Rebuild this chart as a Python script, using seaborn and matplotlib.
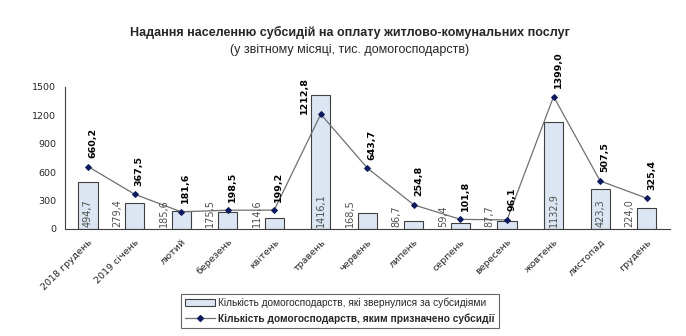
import matplotlib
matplotlib.use("Agg")
import matplotlib.pyplot as plt
import seaborn as sns
import numpy as np
import pandas as pd
from matplotlib.patches import Patch
from matplotlib.lines import Line2D

categories = ["2018 грудень", "2019 січень", "лютий", "березень", "квітень", "травень",
              "червень", "липень", "серпень", "вересень", "жовтень", "листопад", "грудень"]
applied = [494.7, 279.4, 185.6, 175.5, 114.6, 1416.1, 168.5, 86.7, 59.4, 87.7, 1132.9, 423.3, 224.0]
granted = [660.2, 367.5, 181.6, 198.5, 199.2, 1212.8, 643.7, 254.8, 101.8, 96.1, 1399.0, 507.5, 325.4]
yticks = [0, 300, 600, 900, 1200, 1500]

title = "Надання населенню субсидій на оплату житлово-комунальних послуг"
subtitle = "(у звітному місяці, тис. домогосподарств)"
leg_bar = "Кількість домогосподарств, які звернулися за субсидіями"
leg_line = "Кількість домогосподарств, яким призначено субсидії"

sns.set_style("white")
plt.rcParams['font.family'] = ['DejaVu Sans']
TF = ["Liberation Sans", "DejaVu Sans"]

fig = plt.figure(figsize=(6.86, 3.36), dpi=100)
ax = fig.add_axes([64.7/686, 1-229/336, (670-64.7)/686, 142/336])

df = pd.DataFrame({"cat": categories, "applied": applied, "granted": granted})
sns.barplot(data=df, x="cat", y="applied", color="#DCE6F2", edgecolor="#404040",
            linewidth=0.8, width=0.41, saturation=1, ax=ax, zorder=2)
xs = np.arange(len(categories))
sns.lineplot(x=xs, y=granted, color="#707070", linewidth=0.9, marker="D", markersize=3,
             markerfacecolor="#0D1B5E", markeredgecolor="#0D1B5E", ax=ax, zorder=3)

ax.set_xlim(-0.5, len(categories) - 0.5)
ax.set_ylim(0, 1500)
ax.set_yticks(yticks)
ax.set_yticklabels([str(v) for v in yticks], fontsize=6.8)
ax.set_xticks(xs)
ax.set_xticklabels(categories, rotation=45, ha="right", rotation_mode="anchor", fontsize=6.8)
ax.set_xticks(np.arange(-0.5, len(categories)), minor=True)
ax.tick_params(axis="x", which="major", length=0, pad=6)
ax.tick_params(axis="x", which="minor", length=4, direction="out", color="#404040", width=0.8)
ax.tick_params(axis="y", length=4, direction="out", color="#404040", width=0.8, pad=2)
ax.set_xlabel("")
ax.set_ylabel("")
for s in ["top", "right"]:
    ax.spines[s].set_visible(False)
for s in ["left", "bottom"]:
    ax.spines[s].set_color("#404040")
    ax.spines[s].set_linewidth(0.8)

def fmt(v):
    return f"{v:.1f}".replace(".", ",")

for i, v in enumerate(applied):
    inside = v > 400
    x = i if inside else i - 0.37
    ax.text(x, 25, fmt(v), rotation=90, ha="center", va="bottom", fontsize=7,
            color="#505050", zorder=4)
for i, v in enumerate(granted):
    if applied[i] > v + 100:
        # label would sit on the bar: place it to the left of the point
        x, y = i - 0.35, v
    else:
        x, y = i + 0.1, v + 90
    ax.text(x, y, fmt(v), rotation=90, ha="center", va="bottom", fontsize=6.8,
            fontweight="bold", color="black", zorder=4, clip_on=False)

fig.text(0.51, 1-32/336, title, ha="center", va="center", fontsize=9, fontweight="bold", family=TF)
fig.text(0.51, 1-50/336, subtitle, ha="center", va="center", fontsize=9, family=TF)

handles = [Patch(facecolor="#DCE6F2", edgecolor="#404040", linewidth=0.8),
           Line2D([0], [0], color="#707070", linewidth=0.9, marker="D", markersize=3,
                  markerfacecolor="#0D1B5E", markeredgecolor="#0D1B5E")]
leg = fig.legend(handles, [leg_bar, leg_line], loc="center", bbox_to_anchor=(0.495, 1-311/336),
                 frameon=True, fancybox=False, edgecolor="#404040",
                 prop={"family": TF, "size": 7.3},
                 handlelength=3, borderpad=0.4, labelspacing=0.5, handletextpad=0.3)
leg.get_frame().set_linewidth(0.8)
leg.get_texts()[1].set_fontweight("bold")

fig.savefig("out.png", dpi=100)
